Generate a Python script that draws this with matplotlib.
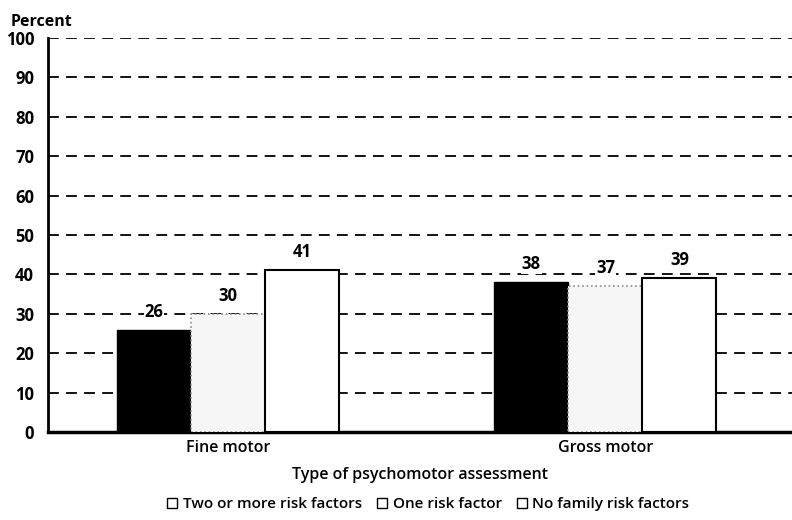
import numpy as np
import matplotlib.pyplot as plt
from matplotlib.lines import Line2D

plt.rcParams['font.family'] = ['Open Sans', 'DejaVu Sans']

categories = ['Fine motor', 'Gross motor']
series_names = ['Two or more risk factors', 'One risk factor', 'No family risk factors']
two_or_more = [26, 38]
one_factor = [30, 37]
no_factor = [41, 39]
yticks = [0, 10, 20, 30, 40, 50, 60, 70, 80, 90, 100]

fig = plt.figure(figsize=(7.92, 5.2), dpi=100)
ax = fig.add_axes([0.0606, 0.1692, 0.9394, 0.7577])

centers = np.array([2.43, 7.53])
w = 1.0
styles = [dict(color='black', edgecolor='black', linewidth=1),
          dict(color='#f6f6f6', edgecolor='#8a8a8a', linewidth=1.2, linestyle=':'),
          dict(color='white', edgecolor='black', linewidth=1.5)]
data = [two_or_more, one_factor, no_factor]
for i, (vals, st) in enumerate(zip(data, styles)):
    xs = centers + (i - 1) * w
    ax.bar(xs, vals, width=w, zorder=3, **st)
    for x, v in zip(xs, vals):
        ax.text(x, v + 2.3, str(v), ha='center', va='bottom', fontsize=12,
                fontweight='bold', zorder=4,
                bbox=dict(facecolor='white', edgecolor='none', pad=0.5))

ax.set_xlim(0, 10.05)
ax.set_ylim(0, 100)
ax.set_yticks(yticks)
ax.set_yticklabels([str(t) for t in yticks], fontsize=12, fontweight='bold')
ax.tick_params(axis='y', length=0, pad=10)
ax.set_xticks(centers)
ax.set_xticklabels(categories, fontsize=11.5, fontweight='semibold')
ax.tick_params(axis='x', length=0, pad=6)
ax.grid(axis='y', color='black', linestyle=(0, (6, 4)), linewidth=1.3, zorder=0)
for s in ['top', 'right']:
    ax.spines[s].set_visible(False)
ax.spines['left'].set_linewidth(2)
ax.spines['bottom'].set_linewidth(2.5)
ax.set_xlabel('Type of psychomotor assessment', fontsize=11.5,
              fontweight='semibold', labelpad=8)

fig.text(0.013, 0.958, 'Percent', fontsize=11.5, fontweight='bold', va='center')

handles = [Line2D([], [], marker='s', linestyle='none', markersize=7,
                  markerfacecolor='white', markeredgecolor='black', markeredgewidth=1)
           for _ in series_names]
fig.legend(handles, series_names, loc='center', bbox_to_anchor=(0.54, 0.03),
           ncol=3, frameon=False, prop={'size': 11, 'weight': 'semibold'},
           handletextpad=0.3, columnspacing=0.9, handlelength=0.8)

fig.savefig('out.png', dpi=100)
